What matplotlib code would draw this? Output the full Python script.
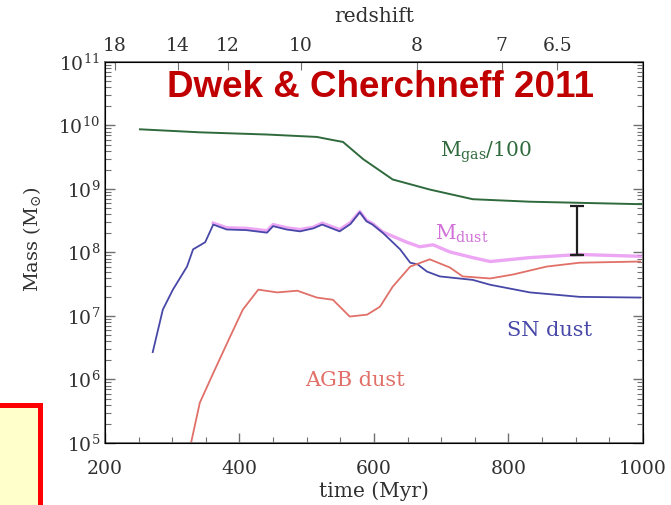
import matplotlib
matplotlib.use('Agg')
import matplotlib.pyplot as plt
from matplotlib.patches import Rectangle
from matplotlib.ticker import LogLocator, MultipleLocator, NullFormatter

# values (time in Myr, mass in Msun)
t_gas = [252, 341, 441, 515, 535, 554, 584, 628, 683, 747, 832, 1000]
m_gas = [8.7e9, 7.8e9, 7.2e9, 6.6e9, 6.0e9, 5.5e9, 2.95e9, 1.41e9, 9.8e8, 6.9e8, 6.3e8, 5.75e8]

t_sn = [271, 286, 301, 322, 331, 349, 361, 381, 410, 441, 450, 470, 490, 510, 523, 549,
        565, 579, 589, 598, 613, 639, 654, 665, 679, 698, 747, 773, 832, 906, 996]
m_sn = [2.7e6, 1.26e7, 2.6e7, 6.0e7, 1.12e8, 1.45e8, 2.75e8, 2.3e8, 2.25e8, 2.05e8, 2.6e8,
        2.3e8, 2.15e8, 2.4e8, 2.75e8, 2.15e8, 2.8e8, 4.3e8, 3.1e8, 2.75e8, 2.05e8, 1.12e8,
        6.9e7, 6.5e7, 5.0e7, 4.2e7, 3.7e7, 3.1e7, 2.35e7, 2.0e7, 1.95e7]

t_dust = [361, 381, 410, 441, 450, 470, 490, 510, 523, 549, 565, 579, 589, 598, 613, 628,
          649, 668, 688, 713, 747, 773, 832, 906, 996]
m_dust = [2.9e8, 2.45e8, 2.4e8, 2.2e8, 2.75e8, 2.45e8, 2.3e8, 2.5e8, 2.9e8, 2.3e8, 2.95e8,
          4.4e8, 3.2e8, 2.85e8, 2.1e8, 1.8e8, 1.45e8, 1.23e8, 1.32e8, 1.02e8, 8.3e7, 7.2e7,
          8.3e7, 9.3e7, 8.7e7]

t_agb = [327, 341, 361, 386, 405, 428, 456, 486, 515, 539, 564, 590, 609, 628, 654, 683,
         713, 732, 773, 807, 857, 906, 996]
m_agb = [9.0e4, 4.3e5, 1.26e6, 4.7e6, 1.26e7, 2.6e7, 2.35e7, 2.5e7, 1.95e7, 1.8e7, 9.8e6,
         1.05e7, 1.4e7, 2.9e7, 6.0e7, 7.8e7, 5.8e7, 4.2e7, 3.9e7, 4.5e7, 6.0e7, 6.9e7, 7.2e7]

# range bar at t ~ 900 Myr
bar_t = 902
bar_lo = 9.0e7
bar_hi = 5.4e8

# redshift axis on top
z_labels = ['18', '14', '12', '10', '8', '7', '6.5']
z_times = [215, 308, 383, 491, 664, 790, 873]

plt.rcParams['font.family'] = ['DejaVu Serif']
plt.rcParams['mathtext.fontset'] = 'dejavuserif'

axcol = '#707070'
txtcol = '#303030'
fig = plt.figure(figsize=(6.71, 5.05), dpi=100)
ax = fig.add_axes([0.1565, 0.1228, 0.8015, 0.7545])

ax.plot(t_gas, m_gas, color='#2f6a3c', lw=1.4)
ax.plot(t_dust, m_dust, color='#e890f0', lw=2.4, alpha=0.8)
ax.plot(t_sn, m_sn, color='#4848a8', lw=1.3)
ax.plot(t_agb, m_agb, color='#e07068', lw=1.3)
ax.errorbar([bar_t], [bar_lo], yerr=[[0], [bar_hi - bar_lo]], fmt='none',
            ecolor='#202020', elinewidth=1.6, capsize=5, capthick=1.6)
ax.plot([bar_t - 6, bar_t + 6], [bar_lo, bar_lo], color='#202020', lw=1.6)

ax.set_yscale('log')
ax.set_xlim(200, 1000)
ax.set_ylim(1e5, 1e11)
ax.xaxis.set_major_locator(MultipleLocator(200))
ax.xaxis.set_minor_locator(MultipleLocator(50))
ax.yaxis.set_major_locator(LogLocator(base=10, numticks=10))
ax.yaxis.set_minor_locator(LogLocator(base=10, subs=range(2, 10), numticks=20))
ax.yaxis.set_minor_formatter(NullFormatter())
ax.tick_params(which='both', direction='in', right=True, colors=axcol, labelcolor=txtcol,
               labelsize=13.5)
ax.tick_params(axis='x', pad=12)
ax.tick_params(which='major', length=7, width=1)
ax.tick_params(which='minor', length=4, width=0.8)
for s in ax.spines.values():
    s.set_color(axcol)
    s.set_linewidth(1.3)

ax.set_xlabel('time (Myr)', fontsize=14.5, color=txtcol)
ax.xaxis.set_label_coords(0.5, -0.1)
ax.set_ylabel(r'Mass (M$_{\odot}$)', fontsize=14, color=txtcol)
ax.yaxis.set_label_coords(-0.115, 0.535)

top = ax.twiny()
top.set_xlim(ax.get_xlim())
top.set_xticks(z_times)
top.set_xticklabels(z_labels)
top.tick_params(direction='in', length=6, colors=axcol, labelcolor=txtcol, labelsize=13.5,
                pad=5)
top.set_xlabel('redshift', fontsize=14.5, color=txtcol)
top.xaxis.set_label_coords(0.5, 1.105)

ax.text(698, 3.8e9, r'M$_{\rm gas}$/100', color='#2f6a3c', fontsize=14.5, va='center')
ax.text(731, 2.0e8, r'M$_{\rm dust}$', color='#d070d8', fontsize=14.5, va='center',
        ha='center')
ax.text(862, 6.0e6, 'SN dust', color='#4848a8', fontsize=15, va='center', ha='center')
ax.text(572, 9.8e5, 'AGB dust', color='#e07068', fontsize=15, va='center', ha='center')

ax.text(0.513, 0.934, 'Dwek & Cherchneff 2011', transform=ax.transAxes, ha='center',
        va='center', fontsize=26.5, fontweight='bold', color='#c00000',
        family='Liberation Sans')

fig.patches.append(Rectangle((-0.05, -0.05), 0.109, 0.249, transform=fig.transFigure,
                             facecolor='#ffffcc', edgecolor='#ff0000', lw=3.6))

fig.savefig('out.png', dpi=100)
